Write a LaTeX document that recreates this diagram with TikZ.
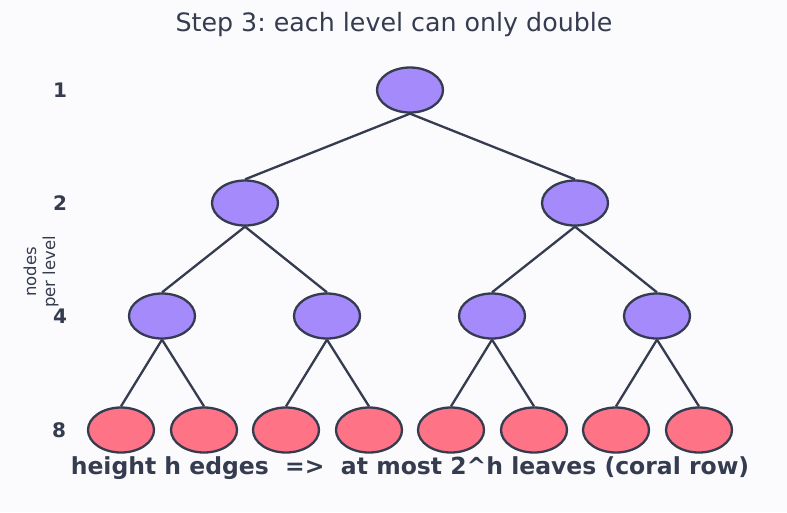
\documentclass[tikz,border=0pt]{standalone}
\usepackage{fontspec}
\setmainfont{DejaVu Sans}
\usetikzlibrary{shapes.geometric}
\definecolor{bgc}{HTML}{FBFBFE}
\definecolor{ink}{HTML}{353C4F}
\definecolor{purp}{HTML}{A48AFB}
\definecolor{coral}{HTML}{FE7385}
\frenchspacing
\tikzset{
  tnode/.style={ellipse, draw=ink, line width=2.3pt, minimum width=66pt, minimum height=45pt, inner sep=0pt},
  inner/.style={tnode, fill=purp},
  leaf/.style={tnode, fill=coral},
  edge/.style={draw=ink, line width=2.3pt},
  lvl/.style={text=ink, font=\fontsize{20}{24}\selectfont\bfseries}
}
\begin{document}
\begin{tikzpicture}[x=1pt,y=-1pt]
\fill[bgc] (0,0) rectangle (787,512);
\useasboundingbox (0,0) rectangle (787,512);
\node[text=ink, font=\fontsize{25.3}{30}\selectfont] (title) at (394,25) {Step 3: each level can only double};
\node[inner] (r) at (410,90) {};
\node[inner] (a) at (245,203) {};
\node[inner] (b) at (575,203) {};
\node[inner] (a1) at (162,316) {};
\node[inner] (a2) at (327,316) {};
\node[inner] (b1) at (492,316) {};
\node[inner] (b2) at (657,316) {};
\node[leaf] (l1) at (121,430) {};
\node[leaf] (l2) at (204,430) {};
\node[leaf] (l3) at (286,430) {};
\node[leaf] (l4) at (369,430) {};
\node[leaf] (l5) at (451,430) {};
\node[leaf] (l6) at (534,430) {};
\node[leaf] (l7) at (616,430) {};
\node[leaf] (l8) at (699,430) {};
\foreach \p/\c in {r/a,r/b,a/a1,a/a2,b/b1,b/b2,a1/l1,a1/l2,a2/l3,a2/l4,b1/l5,b1/l6,b2/l7,b2/l8}
  \draw[edge] (\p.south) -- (\c.north);
\node[lvl] (n1) at (60,90) {1};
\node[lvl] (n2) at (60,203) {2};
\node[lvl] (n4) at (60,316) {4};
\node[lvl] (n8) at (59,430) {8};
\node[text=ink, rotate=90, align=center, font=\fontsize{16.5}{19}\selectfont] (npl) at (41,272) {nodes\\per level};
\node[text=ink, font=\fontsize{23.5}{28}\selectfont\bfseries] (foot) at (410,468) {height h edges \ =>\ \ at most 2\textasciicircum h leaves (coral row)};
\end{tikzpicture}
\end{document}
